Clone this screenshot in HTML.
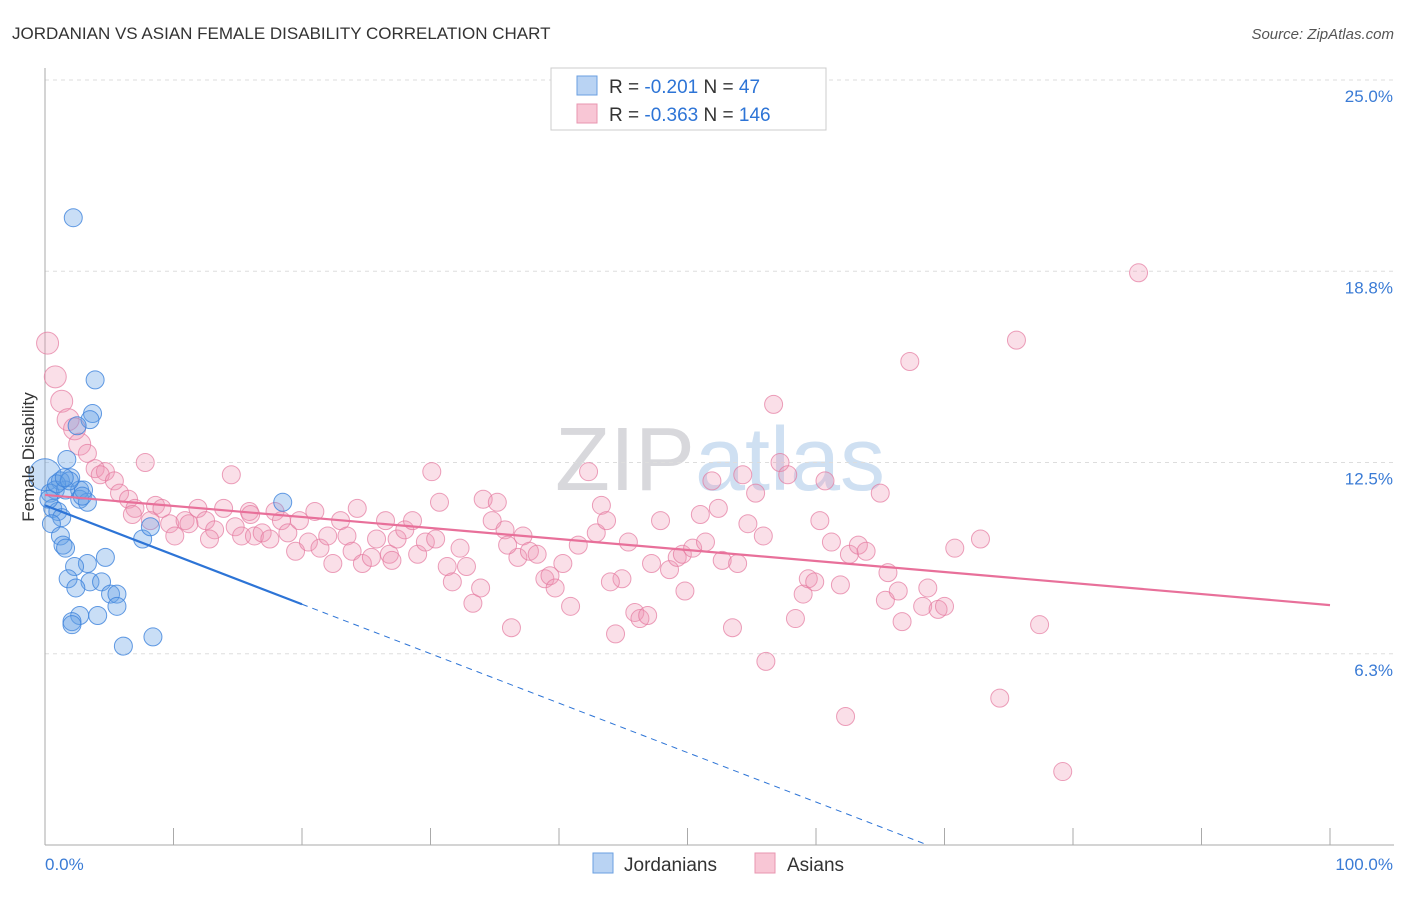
<!DOCTYPE html>
<html><head><meta charset="utf-8"><style>
body{margin:0;background:#fff;font-family:"Liberation Sans",sans-serif}
svg text{font-family:"Liberation Sans",sans-serif}
</style></head><body>
<svg id="chart" width="1406" height="892">
<text x="12" y="39" font-size="17" fill="#333">JORDANIAN VS ASIAN FEMALE DISABILITY CORRELATION CHART</text>
<text x="1394" y="39" font-size="15" fill="#555" font-style="italic" text-anchor="end">Source: ZipAtlas.com</text>
<text x="720" y="490" font-size="90" fill="#e4e4ea" text-anchor="middle" font-family="Liberation Serif"><tspan fill="#d8d8dc">ZIP</tspan><tspan fill="#cfe0f2" font-family="Liberation Sans">atlas</tspan></text>
<g id="grid"></g>
<g id="axes"></g>
<g id="pts"></g>
<g id="lines"></g>
<text transform="translate(34,457) rotate(-90)" font-size="17" fill="#333" text-anchor="middle">Female Disability</text>
<g>
<rect x="551" y="68" width="275" height="62" fill="#fff" stroke="#ccc"/>
<rect x="577" y="76" width="20" height="19" fill="#b9d3f3" stroke="#6a9fe0"/>
<rect x="577" y="104" width="20" height="19" fill="#f8c6d5" stroke="#e896b0"/>
<text x="609" y="93" font-size="19" fill="#333">R = <tspan fill="#2d74d6">-0.201</tspan>   N = <tspan fill="#2d74d6"> 47</tspan></text>
<text x="609" y="121" font-size="19" fill="#333">R = <tspan fill="#2d74d6">-0.363</tspan>   N = <tspan fill="#2d74d6">146</tspan></text>
</g>
<g>
<rect x="593" y="853" width="20" height="20" fill="#b9d3f3" stroke="#6a9fe0"/>
<text x="624" y="871" font-size="19" fill="#333">Jordanians</text>
<rect x="755" y="853" width="20" height="20" fill="#f8c6d5" stroke="#e896b0"/>
<text x="787" y="871" font-size="19" fill="#333">Asians</text>
</g>
</svg>
<script>
const yTicks=[6.25,12.5,18.75,25];
const yTickLabels=["6.3%","12.5%","18.8%","25.0%"];
const xTickLabels=["0.0%","100.0%"];
const jordX=[2.2,3.9,3.7,3.5,2.5,1.7,0,2,1.2,0.8,0.4,1.6,2.7,2.7,3.3,0.6,1,1.3,0.5,1.2,1.4,1.6,4.7,3.3,2.3,1.8,3.5,4.4,2.4,5.1,5.6,5.6,2.7,4.1,2.1,2.1,6.1,8.4,7.6,8.2,18.5,3.0,0.9,1.9,0.3,1.5,2.9];
const jordY=[20.5,15.2,14.1,13.9,13.7,12.6,12.1,12.0,11.9,11.6,11.5,11.6,11.6,11.3,11.2,11.0,10.9,10.7,10.5,10.1,9.8,9.7,9.4,9.2,9.1,8.7,8.6,8.6,8.4,8.2,8.2,7.8,7.5,7.5,7.3,7.2,6.5,6.8,10.0,10.4,11.2,11.6,11.8,11.9,11.3,12.0,11.4];
const asianX=[0.2,0.8,1.3,1.8,2.3,2.7,3.3,3.9,4.7,4.3,5.4,5.8,6.5,7,7.8,8.6,9.1,6.8,8.2,9.7,10.1,10.9,11.9,12.5,13.2,12.8,13.9,14.5,14.8,15.3,15.9,16.3,16.9,17.5,17.9,18.4,18.9,19.5,19.8,20.5,21,21.4,22,22.4,23,23.5,23.9,24.3,24.7,25.4,25.8,26.5,26.8,27.4,28,28.6,29,29.6,30.1,30.4,30.7,31.3,31.7,32.3,32.8,33.3,33.9,34.1,34.8,35.2,35.8,36.3,36.8,37.2,37.7,38.3,38.9,39.3,39.7,40.3,40.9,41.5,42.3,42.9,43.3,43.7,44.4,44.9,45.4,45.9,46.3,46.9,47.2,47.9,48.6,49.2,49.6,49.8,50.4,51,51.4,51.9,52.4,52.7,53.5,53.9,54.3,54.7,55.3,55.9,56.1,56.7,57.2,57.8,58.4,59,59.4,59.9,60.3,60.7,61.2,61.9,62.3,62.6,63.3,63.9,65,65.4,65.6,66.4,66.7,67.3,68.3,68.7,69.5,70,70.8,72.8,74.3,75.6,77.4,79.2,85.1,11.2,16.0,27.0,36.0,44.0];
const asianY=[16.4,15.3,14.5,13.9,13.6,13.1,12.8,12.3,12.2,12.1,11.9,11.5,11.3,11.0,12.5,11.1,11.0,10.8,10.6,10.5,10.1,10.6,11.0,10.6,10.3,10.0,11.0,12.1,10.4,10.1,10.9,10.1,10.2,10.0,10.9,10.6,10.2,9.6,10.6,9.9,10.9,9.7,10.1,9.2,10.6,10.1,9.6,11.0,9.2,9.4,10.0,10.6,9.5,10.0,10.3,10.6,9.5,9.9,12.2,10.0,11.2,9.1,8.6,9.7,9.1,7.9,8.4,11.3,10.6,11.2,10.3,7.1,9.4,10.1,9.6,9.5,8.7,8.8,8.4,9.2,7.8,9.8,12.2,10.2,11.1,10.6,6.9,8.7,9.9,7.6,7.4,7.5,9.2,10.6,9.0,9.4,9.5,8.3,9.7,10.8,9.9,11.9,11.0,9.3,7.1,9.2,12.1,10.5,11.5,10.1,6.0,14.4,12.5,12.1,7.4,8.2,8.7,8.6,10.6,11.9,9.9,8.5,4.2,9.5,9.8,9.6,11.5,8.0,8.9,8.3,7.3,15.8,7.8,8.4,7.7,7.8,9.7,10.0,4.8,16.5,7.2,2.4,18.7,10.5,10.8,9.3,9.8,8.6];
const jordTrend=[11.1,-0.1616];
const asianTrend=[11.44,-0.036];
const X0=45,X1=1330,Y0=845,PXY=30.6;
const sx=v=>X0+(X1-X0)*v/100, sy=v=>Y0-v*PXY;
const NS="http://www.w3.org/2000/svg";
function mk(t,a,p){const e=document.createElementNS(NS,t);for(const k in a)e.setAttribute(k,a[k]);p.appendChild(e);return e;}
const grid=document.getElementById('grid'),axes=document.getElementById('axes'),pts=document.getElementById('pts'),lines=document.getElementById('lines');
yTicks.forEach((t,i)=>{
 const l=mk('line',{x1:X0,x2:1394,y1:sy(t),y2:sy(t),stroke:'#ddd','stroke-dasharray':'4,4'},grid);
 
 
 const tx=mk('text',{x:1393,y:sy(t)+22,'font-size':17,fill:'#3a7bd5','text-anchor':'end'},grid);
 tx.textContent=yTickLabels[i];
 
 
});
const ya=mk('line',{x1:X0,x2:X0,y1:68,y2:Y0,stroke:'#aaa'},axes);


const xa=mk('line',{x1:X0,x2:1394,y1:Y0,y2:Y0,stroke:'#aaa'},axes);


for(let i=0;i<=10;i++){
 const tk=mk('line',{x1:sx(i*10),x2:sx(i*10),y1:Y0-17,y2:Y0,stroke:'#aaa'},axes);
 
 
}
[[0,'start',45],[1,'end',1393]].forEach(([i,a,x])=>{
 const t=mk('text',{x:x,y:870,'font-size':17,fill:'#3a7bd5','text-anchor':a},axes);
 t.textContent=xTickLabels[i];
 
 
});
asianX.forEach((x,i)=>{
 const r=x<3?11:9;
 const c=mk('circle',{cx:sx(x),cy:sy(asianY[i]),r:r,fill:'rgba(240,150,180,0.3)',stroke:'rgba(228,120,158,0.7)','stroke-width':1},pts);
 
 
});
jordX.forEach((x,i)=>{
 const r=x===0?16:9;
 const c=mk('circle',{cx:sx(x),cy:sy(jordY[i]),r:r,fill:'rgba(100,160,230,0.35)',stroke:'rgba(60,130,220,0.8)','stroke-width':1},pts);
 
 
});
const al=mk('line',{x1:sx(0),y1:sy(asianTrend[0]),x2:sx(100),y2:sy(asianTrend[0]+asianTrend[1]*100),stroke:'#e8709a','stroke-width':2.2},lines);


const jl=mk('line',{x1:sx(0),y1:sy(jordTrend[0]),x2:sx(20),y2:sy(jordTrend[0]+jordTrend[1]*20),stroke:'#2d74d6','stroke-width':2.2},lines);


const xEnd=-jordTrend[0]/jordTrend[1];
const jd=mk('line',{x1:sx(20),y1:sy(jordTrend[0]+jordTrend[1]*20),x2:sx(xEnd),y2:sy(0),stroke:'#2d74d6','stroke-width':1,'stroke-dasharray':'6,5'},lines);


</script>
</body></html>
